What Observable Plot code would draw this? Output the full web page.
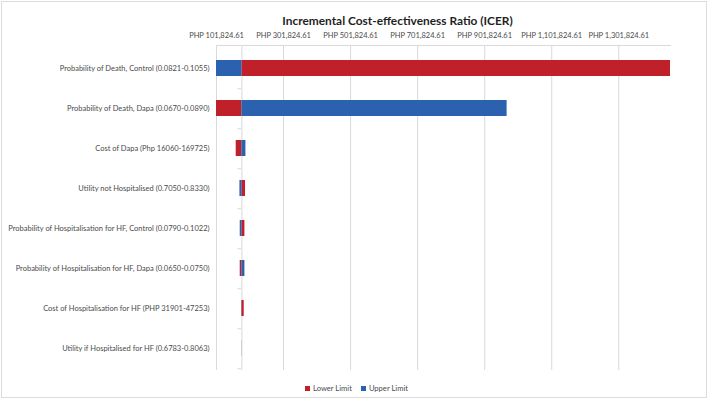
<!DOCTYPE html>
<html>
<head>
<meta charset="utf-8">
<script src="https://cdn.jsdelivr.net/npm/d3@7"></script>
<script src="https://cdn.jsdelivr.net/npm/@observablehq/plot@0.6"></script>
<style>
  html, body { margin: 0; padding: 0; background: #fff; }
  #wrap { position: relative; width: 709px; height: 400px; overflow: hidden; font-family: Lato, "Open Sans", sans-serif; }
  #border { position: absolute; left: 1px; top: 1px; width: 706px; height: 397px; box-sizing: border-box; border: 1px solid #dcdcdc; pointer-events: none; }
  #title { height: 28px; box-sizing: border-box; padding-top: 14px; padding-left: 86px; text-align: center; font-weight: bold; font-size: 11.9px; color: #1f1f1f; line-height: 14px; }
  #legend { height: 24px; display: flex; justify-content: center; align-items: center; gap: 9px; font-size: 7.6px; color: #4a4a4a; padding-left: 4px; }
  .sw { display: inline-block; width: 5px; height: 5px; margin-right: 3px; vertical-align: middle; }
  .item { display: flex; align-items: center; }
  svg { display: block; }
</style>
</head>
<body>
<div id="wrap">
  <div id="border"></div>
  <div id="title">Incremental Cost-effectiveness Ratio (ICER)</div>
  <div id="chart"></div>
  <div id="legend"></div>
</div>
<script>
// Parameters (top to bottom)
const parameters = [
  "Probability of Death, Control (0.0821-0.1055)",
  "Probability of Death, Dapa (0.0670-0.0890)",
  "Cost of Dapa (Php 16060-169725)",
  "Utility not Hospitalised (0.7050-0.8330)",
  "Probability of Hospitalisation for HF, Control (0.0790-0.1022)",
  "Probability of Hospitalisation for HF, Dapa (0.0650-0.0750)",
  "Cost of Hospitalisation for HF (PHP 31901-47253)",
  "Utility if Hospitalised for HF (0.6783-0.8063)"
];
// ICER at the lower and upper limit of each parameter (PHP)
const lowerLimitICER = [1456100, 101824.61, 160600, 188400, 186600, 172600, 184500, 177900];
const upperLimitICER = [101824.61, 968700, 189600, 171700, 172600, 186600, 177000, 177400];
// Base-case ICER (where the category axis crosses)
const baseICER = 177600;
// Axis
const axisMin = 101824.61;
const axisMax = 1456100;
const tickValues = [101824.61, 301824.61, 501824.61, 701824.61, 901824.61, 1101824.61, 1301824.61];
const seriesNames = ["Lower Limit", "Upper Limit"];
const seriesColors = ["#c0202a", "#2a62b0"];

const rows = [];
parameters.forEach((p, i) => {
  rows.push({param: p, series: "Lower Limit", value: lowerLimitICER[i]});
  rows.push({param: p, series: "Upper Limit", value: upperLimitICER[i]});
});

const fmt = d => "PHP " + d3.format(",.2f")(d);

const chart = Plot.plot({
  width: 709,
  height: 348,
  marginTop: 17,
  marginBottom: 6,
  marginLeft: 216,
  marginRight: 39,
  style: {fontFamily: "Lato, 'Open Sans', sans-serif", fontSize: "7.5px", color: "#4a4a4a", background: "#fff"},
  x: {domain: [axisMin, axisMax], ticks: tickValues, tickFormat: fmt},
  y: {domain: parameters, paddingInner: 0.6, paddingOuter: 0.3},
  color: {domain: seriesNames, range: seriesColors},
  marks: [
    Plot.gridX(tickValues, {stroke: "#d9d9d9", strokeOpacity: 1, strokeWidth: 1}),
    Plot.frame({anchor: "top", stroke: "#d9d9d9", strokeWidth: 1}),
    Plot.axisX(tickValues, {anchor: "top", tickSize: 0, tickPadding: 8, tickFormat: fmt, label: null, fill: "#4a4a4a"}),
    Plot.axisY({tickSize: 0, tickPadding: 7, label: null, fill: "#4a4a4a"}),
    Plot.ruleX([baseICER], {stroke: "#d9d9d9", strokeWidth: 1}),
    Plot.ruleY(parameters, {y: d => d, x1: baseICER, x2: baseICER, insetLeft: -4, dy: 20.3, stroke: "#d9d9d9"}),
    Plot.barX(rows, {y: "param", x1: baseICER, x2: "value", fill: "series"})
  ]
});
document.getElementById("chart").appendChild(chart);

const legend = document.getElementById("legend");
seriesNames.forEach((n, i) => {
  const item = document.createElement("span");
  item.className = "item";
  const sw = document.createElement("span");
  sw.className = "sw";
  sw.style.background = seriesColors[i];
  item.appendChild(sw);
  item.appendChild(document.createTextNode(n));
  legend.appendChild(item);
});
</script>
</body>
</html>
